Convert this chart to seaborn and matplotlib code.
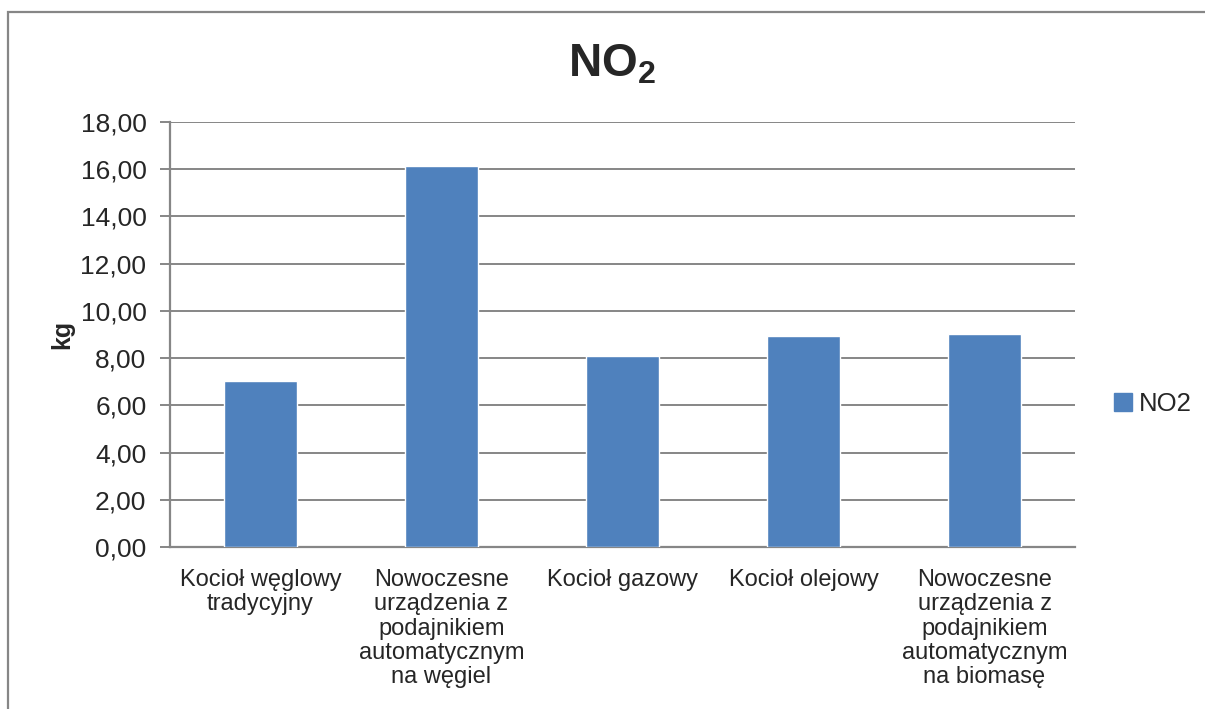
import matplotlib
matplotlib.use("Agg")
import matplotlib.pyplot as plt
import matplotlib.patches as mpatches
from matplotlib.ticker import FuncFormatter, MultipleLocator
import seaborn as sns
import pandas as pd

categories = [
    "Kocioł węglowy\ntradycyjny",
    "Nowoczesne\nurządzenia z\npodajnikiem\nautomatycznym\nna węgiel",
    "Kocioł gazowy",
    "Kocioł olejowy",
    "Nowoczesne\nurządzenia z\npodajnikiem\nautomatycznym\nna biomasę",
]
no2_kg = [7.04, 16.13, 8.07, 8.94, 9.01]
series_name = "NO2"

sns.set_theme(style="white")
plt.rcParams["font.family"] = ["Liberation Sans", "DejaVu Sans"]
plt.rcParams["mathtext.fontset"] = "custom"
plt.rcParams["mathtext.rm"] = "Liberation Sans"
plt.rcParams["mathtext.bf"] = "Liberation Sans:bold"

BAR = "#4F81BD"
GRID = "#868686"

W, H = 1205, 709
fig = plt.figure(figsize=(W / 100, H / 100), dpi=100)
fig.patch.set_facecolor("white")

# outer chart frame (right and lower edges run past the canvas)
fig.add_artist(mpatches.Rectangle((8 / W, -0.05), 1.05, 1.05 - 12 / H,
                                  transform=fig.transFigure, fill=False,
                                  edgecolor=GRID, linewidth=1.6))

ax = fig.add_axes([170 / W, 162 / H, (1075 - 170) / W, (547 - 122) / H])
df = pd.DataFrame({"kategoria": categories, "kg": no2_kg})
sns.barplot(data=df, x="kategoria", y="kg", color=BAR, width=0.4,
            saturation=1, ax=ax, zorder=3)

ax.set_ylim(0, 18)
ax.set_xlim(-0.5, len(categories) - 0.5)
ax.yaxis.set_major_locator(MultipleLocator(2))
ax.yaxis.set_major_formatter(FuncFormatter(lambda v, p: f"{v:.2f}".replace(".", ",")))
ax.grid(axis="y", color=GRID, linewidth=1.4, zorder=0)
ax.set_axisbelow(True)

for side in ("top", "right"):
    ax.spines[side].set_visible(False)
for side in ("left", "bottom"):
    ax.spines[side].set_color(GRID)
    ax.spines[side].set_linewidth(1.6)

ax.tick_params(axis="y", which="major", length=7, width=1.4, color=GRID,
               labelsize=19, pad=10, left=True)
ax.tick_params(axis="x", length=0, labelsize=17, pad=16)
for lbl in ax.get_xticklabels():
    lbl.set_linespacing(1.13)

ax.set_xlabel("")
ax.set_ylabel("kg", fontsize=18, fontweight="bold")
ax.yaxis.set_label_coords((62 - 170) / 905, 0.5)
ax.yaxis.label.set_verticalalignment("center")

fig.text(612 / W, 1 - 65 / H, r"$\mathbf{NO_2}$", ha="center", va="center",
         fontsize=33)

handle = mpatches.Patch(facecolor=BAR, edgecolor=BAR, label=series_name)
fig.legend(handles=[handle], loc="center left",
           bbox_to_anchor=(1114 / W, 1 - 404 / H), frameon=False,
           fontsize=18.5, handlelength=0.7, handleheight=0.7,
           handletextpad=0.25, borderaxespad=0, borderpad=0)

fig.savefig("out.png", dpi=100, facecolor="white")
